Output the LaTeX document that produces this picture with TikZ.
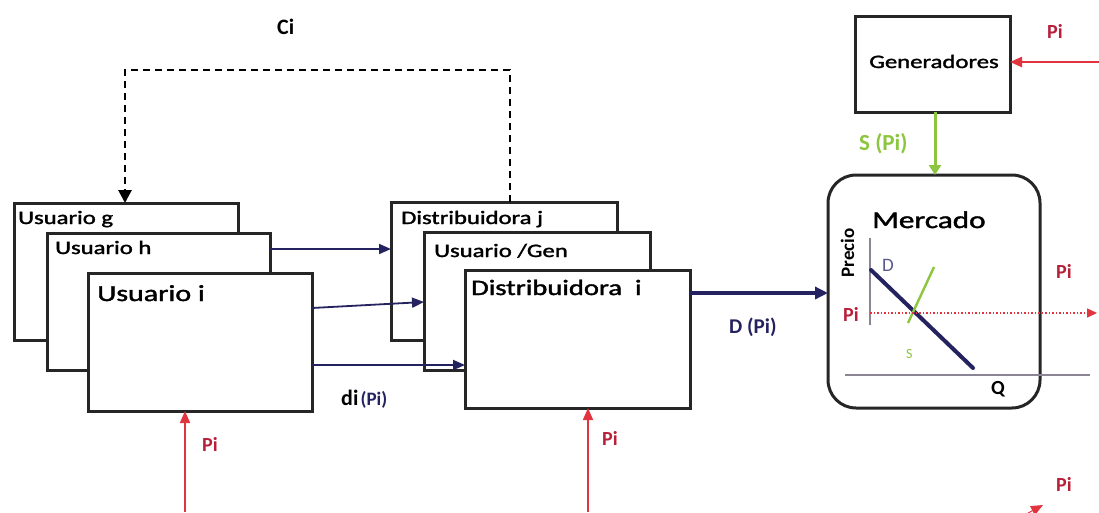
\documentclass[tikz,border=0pt]{standalone}
\usepackage{fontspec}
\setmainfont{Carlito}
\newfontfamily\semi[FakeBold=1.5]{Carlito}
\usepackage{graphicx}
\usetikzlibrary{arrows.meta}
\definecolor{navy}{HTML}{24235F}
\definecolor{pired}{HTML}{B8203A}
\definecolor{arred}{HTML}{E2343F}
\definecolor{sgreen}{HTML}{8CC63F}
\definecolor{axgray}{HTML}{8A8494}
\definecolor{dgray}{HTML}{5A5A8A}
\newcommand\wx[1]{\scalebox{1.3}[1]{#1}}
\newcommand\fs[1]{\fontsize{#1}{#1}\selectfont}
\tikzset{
  box/.style={draw=black!85, line width=3pt, fill=white, inner sep=0pt, outer sep=0pt, anchor=north west},
  ttl/.style={anchor=base west, inner sep=0pt, font=\semi\fs{19}},
  pilbl/.style={anchor=base west, inner sep=0pt, text=pired, font=\fs{20}\bfseries},
  navarrow/.style={draw=navy, line width=1.8pt, -{Triangle[length=12pt,width=10pt]}},
  redarrow/.style={draw=arred, line width=1.8pt, -{Triangle[length=12pt,width=10pt]}},
  dashline/.style={draw=black, line width=2.8pt, dash pattern=on 7pt off 5pt, -{Triangle[length=13pt,width=13pt]}},
}
\begin{document}
\begin{tikzpicture}[x=1pt,y=-1pt]
\useasboundingbox (0,0) rectangle (1099,512);

% user boxes
\node[box, minimum width=224pt, minimum height=137pt] (ug) at (14,203) {};
\node[ttl] (tug) at (18,224) {\wx{Usuario g}};
\node[box, minimum width=223pt, minimum height=137pt] (uh) at (47,233) {};
\node[ttl] (tuh) at (55,254) {\wx{Usuario h}};
\node[box, minimum width=224pt, minimum height=138pt] (ui) at (88,273) {};
\node[ttl, font=\semi\fs{23}] (tui) at (97,301) {\wx{Usuario i}};

% distributor boxes
\node[box, minimum width=226pt, minimum height=138pt] (dj) at (391,202) {};
\node[ttl] (tdj) at (401,224) {\wx{Distribuidora j}};
\node[box, minimum width=226pt, minimum height=138pt] (dg) at (424,232) {};
\node[ttl] (tdg) at (434,257) {\wx{Usuario /Gen}};
\node[box, minimum width=225pt, minimum height=138pt] (dii) at (465,270) {};
\node[ttl, font=\semi\fs{22}] (tdi) at (471,295) {\wx{Distribuidora\ \ i}};

% generators and market
\node[box, minimum width=155pt, minimum height=96pt] (gen) at (855,16) {};
\node[anchor=base, inner sep=0pt, font=\semi\fs{19}] (tgen) at (934,68) {\wx{Generadores}};
\node[box, rounded corners=28pt, minimum width=212pt, minimum height=233pt] (mer) at (828,175) {};
\node[ttl, font=\semi\fs{24}] (tmer) at (872,228) {\wx{Mercado}};

% feedback dashed Ci
\coordinate (c1) at (510,70);
\coordinate (c2) at (125,70);
\draw[dashline] (dj.north -| c1) -- (c1) -- (c2) -- (ug.north -| c2);
\node[anchor=base west, inner sep=0pt, font=\fs{22}\bfseries] (ci) at (277,34) {Ci};

% user -> distributor flows
\draw[navarrow] (uh.east |- 0,249) -- (dj.west |- 0,249);
\draw[navarrow] (ui.east |- 0,308) -- (dg.west |- 0,302);
\draw[navarrow] (ui.east |- 0,365) -- (dii.west |- 0,365);
\node[anchor=base west, inner sep=0pt] (dlbl) at (341,405) {{\fs{22}\bfseries di} {\fs{19}\bfseries\color{navy}(Pi)}};

% distributor -> market
\draw[draw=navy, line width=3.4pt, -{Triangle[length=13pt,width=12pt]}] (dii.east |- 0,293) -- (mer.west |- 0,293);
\node[anchor=base west, inner sep=0pt, text=navy, font=\fs{21}\bfseries] (dpi) at (729,333) {D (Pi)};

% generators -> market
\draw[draw=sgreen, line width=3pt, -{Triangle[length=10pt,width=12pt]}] (gen.south -| 935,0) -- (mer.north -| 935,0);
\node[anchor=base west, inner sep=0pt, text=sgreen, font=\fs{23}\bfseries] (spi) at (859,150) {S (Pi)};

% price to generators
\coordinate (pr) at (1099,62);
\draw[redarrow, line width=2.3pt] (pr) -- (gen.east |- pr);
\node[pilbl] (pg) at (1047,38) {Pi};

% market graph
\draw[axgray, line width=1.9pt] (870,238) -- (870,325);
\draw[axgray, line width=2.3pt] (845,375) -- (1090,375);
\node[anchor=base, rotate=90, inner sep=0pt, font=\fs{19}\bfseries] (prec) at (854,253) {Precio};
\draw[navy, line width=4pt, line cap=round] (871,270) -- (973,368);
\node[anchor=base west, inner sep=0pt, text=dgray, font=\fs{19}] (dd) at (882,271) {D};
\draw[sgreen, line width=2.4pt] (934,267) -- (908,323);
\node[anchor=base west, inner sep=0pt, text=sgreen, font=\fs{14}] (ss) at (906,358) {S};
\node[anchor=base west, inner sep=0pt, font=\fs{20}\bfseries] (qq) at (991,394) {Q};
\draw[arred, line width=1.5pt, dotted, -{Triangle[length=10pt,width=9pt]}] (870,313) -- (1097,313);
\node[pilbl] (pm) at (843,321) {Pi};
\node[pilbl] (pr2) at (1056,278) {Pi};

% price signals at the bottom
\coordinate (b1) at (185,512);
\coordinate (b2) at (588,512);
\draw[redarrow] (b1) -- (ui.south -| b1);
\draw[redarrow] (b2) -- (dii.south -| b2);
\node[pilbl] (pu) at (202,451) {Pi};
\node[pilbl] (pd) at (602,445) {Pi};
\coordinate (b3) at (1043,505);
\draw[redarrow, line width=1pt] (1028,513) -- (b3);
\node[pilbl] (pb) at (1056,491) {Pi};
\end{tikzpicture}
\end{document}
